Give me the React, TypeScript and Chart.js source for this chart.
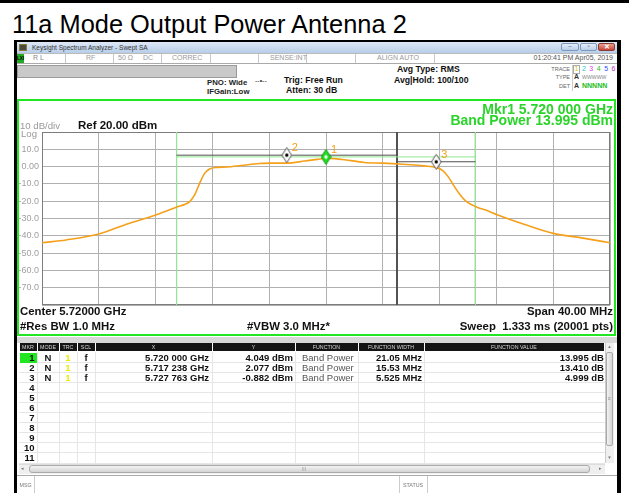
import React, { useEffect, useRef } from 'react';
import { Chart, registerables } from 'chart.js';
Chart.register(...registerables);

// ---------- data ----------
const traceFreqMHz = [5700, 5701.7, 5704, 5706, 5708, 5709.4, 5710.4, 5710.75, 5711.1, 5711.45, 5711.8, 5712.2, 5713, 5714, 5715.3, 5716.3, 5717.2, 5718.5, 5719.4, 5720, 5720.6, 5721.3, 5722.7, 5724, 5725, 5726, 5726.9, 5727.8, 5728.2, 5728.6, 5729, 5729.4, 5729.9, 5730.6, 5731.3, 5732.1, 5734, 5736, 5738, 5740];
const traceDbm = [-44, -42.4, -39, -33.2, -28, -23.6, -20.3, -16.4, -9.7, -3.9, -1.4, -0.5, -0.2, 0.6, 1.8, 2.0, 2.0, 3.2, 4.2, 4.8, 4.6, 4.0, 2.4, 2.0, 1.6, 1.1, 0.4, -0.6, -2.2, -5.8, -11, -15.8, -20.3, -23.3, -25.3, -28, -33.5, -38.6, -41.2, -44];

const markerNames = ['1', '2', '3'];
const markerFreqMHz = [5720.0, 5717.238, 5727.763];
const markerWidthMHz = [21.05, 15.53, 5.525];
const markerShownDbm = [5.6, 6.6, 2.8];

const yTickValues = [20, 10, 0, -10, -20, -30, -40, -50, -60, -70, -80];
const yTickLabels = ['', '10.0', '0.00', '-10.0', '-20.0', '-30.0', '-40.0', '-50.0', '-60.0', '-70.0', ''];

const tblMkr = ['1', '2', '3', '4', '5', '6', '7', '8', '9', '10', '11'];
const tblMode = ['N', 'N', 'N'];
const tblTrc = ['1', '1', '1'];
const tblScl = ['f', 'f', 'f'];
const tblX = ['5.720 000 GHz', '5.717 238 GHz', '5.727 763 GHz'];
const tblY = ['4.049 dBm', '2.077 dBm', '-0.882 dBm'];
const tblFunc = ['Band Power', 'Band Power', 'Band Power'];
const tblFW = ['21.05 MHz', '15.53 MHz', '5.525 MHz'];
const tblFV = ['13.995 dB', '13.410 dB', '4.999 dB'];

const tblHeads = ['MKR', 'MODE', 'TRC', 'SCL', 'X', 'Y', 'FUNCTION', 'FUNCTION WIDTH', 'FUNCTION VALUE'];
const tblCols = [19, 37, 59, 77, 95, 212, 295, 358, 424, 604];

const F = "Arial, 'Liberation Sans', Helvetica, sans-serif";
const ORANGE = '#f5a01a';
const GREEN = '#22e622';

type TP = { x: number; y: number; s: number; t: string; b?: boolean; c?: string; a?: string; pre?: boolean };
function T({ x, y, s, t, b, c, a, pre }: TP) {
  const tr = a === 'right' ? 'translateX(-100%)' : a === 'center' ? 'translateX(-50%)' : undefined;
  return (
    <div style={{ position: 'absolute', left: x, top: y - s * 0.6, fontSize: s, lineHeight: `${s * 1.2}px`, fontWeight: b ? 'bold' : 'normal', color: c || '#000', whiteSpace: pre ? 'pre' : 'nowrap', transform: tr, fontFamily: F }}>{t}</div>
  );
}
function R({ x, y, w, h, bg, st }: { x: number; y: number; w: number; h: number; bg?: string; st?: any }) {
  return <div style={{ position: 'absolute', left: x, top: y, width: w, height: h, background: bg, boxSizing: 'border-box', ...(st || {}) }} />;
}

function makeDiamond(fill: string, stroke: string, dot: string, whiteCore: boolean) {
  const c = document.createElement('canvas');
  c.width = 11; c.height = 16;
  const g = c.getContext('2d')!;
  g.beginPath();
  g.moveTo(5.5, 0.5); g.lineTo(10.3, 8); g.lineTo(5.5, 15.5); g.lineTo(0.7, 8); g.closePath();
  g.fillStyle = fill; g.fill();
  g.strokeStyle = stroke; g.lineWidth = 1; g.stroke();
  if (whiteCore) {
    g.beginPath(); g.moveTo(5.5, 5.5); g.lineTo(7.3, 8); g.lineTo(5.5, 10.5); g.lineTo(3.7, 8); g.closePath();
    g.fillStyle = '#ffffff'; g.fill();
  } else {
    g.beginPath(); g.arc(5.5, 8, 1.7, 0, Math.PI * 2); g.fillStyle = dot; g.fill();
  }
  return c;
}

function SpectrumChart() {
  const ref = useRef<HTMLCanvasElement>(null);
  useEffect(() => {
    if (!ref.current) return;
    const edges = markerFreqMHz.map((f, i) => [f - markerWidthMHz[i] / 2, f + markerWidthMHz[i] / 2]);
    const lineColors = ['#8fe88f', '#505050', '#505050'];
    const datasets: any[] = [];
    [1, 2, 0].forEach((i, k) => {
      edges[i].forEach((e) => {
        datasets.push({ data: [{ x: e, y: 20 }, { x: e, y: -80 }], borderColor: lineColors[i], borderWidth: 1, pointRadius: 0, showLine: true, order: 10 - k });
      });
    });
    datasets.push({ data: traceFreqMHz.map((f, i) => ({ x: f, y: traceDbm[i] })), borderColor: ORANGE, borderWidth: 1.6, pointRadius: 0, showLine: true, cubicInterpolationMode: 'monotone', order: 5 });
    [0, 1, 2].forEach((i) => {
      datasets.push({ data: [{ x: edges[i][0], y: markerShownDbm[i] }, { x: edges[i][1], y: markerShownDbm[i] }], borderColor: lineColors[i], borderWidth: 1, pointRadius: 0, showLine: true, order: 3 - i * 0.1 });
    });
    const styles = [makeDiamond('#22dd22', '#119911', '#fff', true), makeDiamond('#ffffff', '#555555', '#000', false), makeDiamond('#ffffff', '#555555', '#000', false)];
    datasets.push({ data: markerFreqMHz.map((f, i) => ({ x: f, y: markerShownDbm[i] })), pointStyle: styles, pointRadius: 5, showLine: false, borderWidth: 0, order: 0 });

    const framePlugin = {
      id: 'frame',
      beforeDatasetsDraw(chart: any) {
        const { ctx, chartArea: a } = chart;
        ctx.save(); ctx.strokeStyle = '#7c7c7c'; ctx.lineWidth = 1;
        ctx.strokeRect(Math.round(a.left) + 0.5, Math.round(a.top) + 0.5, Math.round(a.right - a.left) - 1, Math.round(a.bottom - a.top) - 1);
        ctx.restore();
      },
      afterDatasetsDraw(chart: any) {
        const { ctx } = chart; const xs = chart.scales.x; const ys = chart.scales.y;
        ctx.save(); ctx.font = `11px ${F}`; ctx.fillStyle = ORANGE; ctx.textBaseline = 'middle';
        markerNames.forEach((n, i) => {
          ctx.fillText(n, xs.getPixelForValue(markerFreqMHz[i]) + 5, ys.getPixelForValue(markerShownDbm[i]) - 7);
        });
        ctx.restore();
      },
    };

    const chart = new Chart(ref.current, {
      type: 'scatter',
      data: { datasets },
      options: {
        animation: false, responsive: false, maintainAspectRatio: false,
        layout: { padding: { left: 0, right: 2, top: 32, bottom: 28 } },
        plugins: { legend: { display: false }, tooltip: { enabled: false } },
        scales: {
          x: { type: 'linear', min: 5700, max: 5740, ticks: { display: false, stepSize: 4 }, grid: { color: '#b0b0b0', drawTicks: false }, border: { display: false }, afterFit: (s: any) => { s.height = 0; } },
          y: {
            min: -80, max: 20,
            ticks: { stepSize: 10, padding: 3, color: '#a0a0a0', font: { size: 9, family: F }, callback: (v: any) => { const k = yTickValues.indexOf(Number(v)); return k >= 0 ? yTickLabels[k] : ''; } },
            grid: { color: '#b0b0b0', drawTicks: false }, border: { display: false },
            afterFit: (s: any) => { s.width = 23; },
          },
        },
      } as any,
      plugins: [framePlugin],
    });
    return () => chart.destroy();
  }, []);
  return <canvas ref={ref} width={596} height={233} style={{ position: 'absolute', left: 19, top: 100, width: 596, height: 233 }} />;
}

export default function App() {
  const rowTop = (i: number) => 352 + i * 10.05;
  const statusSeps = [65, 113, 161, 210, 258, 306, 355, 434];
  const traceNumColors = ['#d4c400', '#1cc8d0', '#e040e0', '#22c022', '#3050ff', '#c030c0'];
  return (
    <div style={{ position: 'absolute', left: 0, top: 0, width: 629, height: 493, background: '#fff', overflow: 'hidden', fontFamily: F }}>
      <R x={0} y={0} w={629} h={3} bg="#000" />
      <T x={12} y={24} s={25.4} t="11a Mode Output Power Antenna 2" />

      <R x={14} y={40} w={607} h={460} bg="#000" />
      <R x={17} y={42} w={600} h={455} bg="#fff" />
      <R x={17} y={42} w={600} h={11} bg="linear-gradient(#dfe9f6, #b7cde8)" />
      <R x={19} y={44} w={8} h={7} bg="#4a4a3a" st={{ border: '1px solid #8a7a3a' }} />
      <T x={32} y={47.5} s={6.5} t="Keysight Spectrum Analyzer - Swept SA" c="#333" />
      <R x={561} y={43} w={18} h={8} bg="linear-gradient(#e4eef9,#b9cfe9)" st={{ border: '1px solid #7f98b8', borderRadius: 2 }} />
      <R x={580} y={43} w={17} h={8} bg="linear-gradient(#e4eef9,#b9cfe9)" st={{ border: '1px solid #7f98b8', borderRadius: 2 }} />
      <R x={598} y={43} w={17} h={8} bg="linear-gradient(#e8a090,#c8453a)" st={{ border: '1px solid #8a3a30', borderRadius: 2 }} />
      <T x={570} y={47} s={6} t="–" c="#445" a="center" />
      <T x={588.5} y={47} s={6} t="▫" c="#445" a="center" />
      <T x={606.5} y={47} s={6.5} t="✕" c="#fff" a="center" b />
      <R x={17} y={53} w={600} h={11} bg="#fff" st={{ borderTop: '1px solid #bbb', borderBottom: '1px solid #aaa' }} />
      <R x={17} y={54} w={7} h={9} bg="#2a2" />
      <T x={20.5} y={58.5} s={4.5} t="LXI" c="#000" a="center" b />
      {statusSeps.map((x) => <R key={x} x={x} y={54} w={1} h={9} bg="#c8c8c8" />)}
      <T x={33} y={58.5} s={7} t="R L" c="#888" />
      <T x={86} y={58.5} s={7} t="RF" c="#999" />
      <T x={118} y={58.5} s={7} t="50 Ω" c="#999" />
      <T x={143} y={58.5} s={7} t="DC" c="#999" />
      <T x={172} y={58.5} s={7} t="CORREC" c="#999" />
      <T x={270} y={58.5} s={7} t="SENSE:INT" c="#999" />
      <T x={377} y={58.5} s={7} t="ALIGN AUTO" c="#999" />
      <T x={613} y={58.5} s={7} t="01:20:41 PM Apr05, 2019" c="#555" a="right" />
      <R x={17} y={65} w={220} h={13} bg="#c9c9c9" st={{ border: '1px solid #9a9a9a' }} />
      <T x={207} y={83} s={7.8} t="PNO: Wide" b c="#222" />
      <T x={207} y={92} s={7.8} t="IFGain:Low" b c="#222" />
      <T x={255} y={81} s={7} t="--•--" c="#333" />
      <T x={284} y={80} s={8.7} t="Trig: Free Run" b c="#111" />
      <T x={286} y={90} s={8.7} t="Atten: 30 dB" b c="#111" />
      <T x={397} y={69} s={8.7} t="Avg Type: RMS" b c="#111" />
      <T x={394} y={80} s={8.7} t="Avg|Hold: 100/100" b c="#111" />
      <R x={572} y={65} w={1} h={26} bg="#ccc" />
      <T x={570} y={69} s={5.5} t="TRACE" c="#666" a="right" />
      <T x={570} y={77.5} s={5.5} t="TYPE" c="#666" a="right" />
      <T x={570} y={86} s={5.5} t="DET" c="#666" a="right" />
      <R x={573} y={64.5} w={7} h={9} bg="#fff" st={{ border: '1px solid #aaa' }} />
      {traceNumColors.map((c, i) => <T key={i} x={576.5 + i * 7.4} y={69} s={7} t={String(i + 1)} c={c} a="center" />)}
      <T x={574} y={77.5} s={7} t="A" c="#333" b />
      <T x={582} y={77.5} s={5.2} t="WWWWW" c="#888" />
      <T x={574} y={86} s={7} t="A" c="#333" b />
      <T x={582} y={86} s={7} t="NNNNN" c="#22bb22" b />

      <R x={17} y={99} w={599} h={237} st={{ border: `2px solid ${GREEN}` }} />
      <SpectrumChart />
      <T x={613} y={109} s={14} t="Mkr1 5.720 000 GHz" b c="#2bd42b" a="right" />
      <T x={613} y={120.5} s={14} t="Band Power 13.995 dBm" b c="#2bd42b" a="right" />
      <T x={20} y={126} s={9.6} t="10 dB/div" c="#999" />
      <T x={21} y={134} s={9.6} t="Log" c="#999" />
      <T x={78} y={126} s={11.5} t="Ref 20.00 dBm" b c="#111" />
      <T x={20} y={312} s={11.4} t="Center 5.72000 GHz" b c="#111" />
      <T x={20} y={327} s={11.4} t="#Res BW 1.0 MHz" b c="#111" />
      <T x={247} y={327} s={11.4} t="#VBW 3.0 MHz*" b c="#111" />
      <T x={613} y={312} s={11.4} t="Span 40.00 MHz" b c="#111" a="right" />
      <T x={613} y={327} s={11.4} t="Sweep  1.333 ms (20001 pts)" b c="#111" a="right" pre />

      <R x={17} y={337} w={600} h={6} bg="#d8d8d8" />
      <R x={17} y={343} w={600} h={131} bg="#fff" />
      {tblHeads.map((h, i) => (
        <React.Fragment key={h}>
          <R x={tblCols[i] + 1} y={343} w={tblCols[i + 1] - tblCols[i] - 1} h={8} bg="#151515" />
          <T x={(tblCols[i] + tblCols[i + 1]) / 2} y={347} s={5.3} t={h} c="#d8d8d8" a="center" />
        </React.Fragment>
      ))}
      <R x={605} y={343} w={9} h={120} bg="#efefef" st={{ borderLeft: '1px solid #ccc' }} />
      <T x={609.5} y={346.5} s={4.5} t="▲" c="#777" a="center" />
      <T x={609.5} y={458} s={4.5} t="▼" c="#777" a="center" />
      <R x={606} y={352} w={7} h={94} bg="linear-gradient(90deg,#f2f2f2,#d6d6d6)" st={{ border: '1px solid #aaa', borderRadius: 2 }} />
      <T x={609.5} y={398} s={5} t="≡" c="#888" a="center" />
      {tblMkr.map((m, i) => (
        <R key={'rl' + i} x={19} y={rowTop(i) + 10} w={586} h={1} bg="#e6e6e6" />
      ))}
      {tblCols.slice(1, 9).map((x) => <R key={'cl' + x} x={x} y={352} w={1} h={111} bg="#e6e6e6" />)}
      <R x={20} y={352.5} w={17} h={10} bg={GREEN} />
      {tblMkr.map((m, i) => (
        <T key={'m' + i} x={34.5} y={rowTop(i) + 5.5} s={9.5} t={m} b c="#111" a="right" />
      ))}
      {tblX.map((_, i) => (
        <React.Fragment key={'r' + i}>
          <T x={48} y={rowTop(i) + 5.5} s={9.5} t={tblMode[i]} b c="#111" a="center" />
          <T x={68} y={rowTop(i) + 5.5} s={9.5} t={tblTrc[i]} b c="#eded00" a="center" />
          <T x={86} y={rowTop(i) + 5.5} s={9.5} t={tblScl[i]} b c="#111" a="center" />
          <T x={209} y={rowTop(i) + 5.5} s={9.5} t={tblX[i]} b c="#111" a="right" />
          <T x={293} y={rowTop(i) + 5.5} s={9.5} t={tblY[i]} b c="#111" a="right" />
          <T x={302} y={rowTop(i) + 5.5} s={9.5} t={tblFunc[i]} c="#555" />
          <T x={422} y={rowTop(i) + 5.5} s={9.5} t={tblFW[i]} b c="#111" a="right" />
          <T x={604} y={rowTop(i) + 5.5} s={9.5} t={tblFV[i]} b c="#111" a="right" />
        </React.Fragment>
      ))}
      <R x={19} y={464} w={586} h={10} bg="#efefef" st={{ borderTop: '1px solid #ddd' }} />
      <T x={22} y={468.5} s={4.5} t="◂" c="#777" a="center" />
      <T x={600} y={468.5} s={4.5} t="▸" c="#777" a="center" />
      <R x={29} y={465} w={561} h={8} bg="linear-gradient(#f3f3f3,#d4d4d4)" st={{ border: '1px solid #aaa', borderRadius: 3 }} />
      <T x={304} y={469} s={5} t="III" c="#999" a="center" />
      <R x={17} y={475} w={600} h={20} bg="#fff" st={{ borderTop: '1px solid #aaa' }} />
      <R x={34} y={476} w={1} h={18} bg="#ccc" />
      <T x={19.5} y={485} s={5.3} t="MSG" c="#777" />
      <R x={399} y={476} w={1} h={18} bg="#ccc" />
      <R x={427} y={476} w={1} h={18} bg="#ccc" />
      <T x={413} y={485} s={5.3} t="STATUS" c="#777" a="center" />
    </div>
  );
}
